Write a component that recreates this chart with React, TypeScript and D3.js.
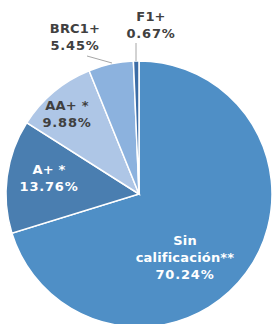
import React from 'react'
import * as d3 from 'd3'

const categories = ['Sin calificación**', 'A+ *', 'AA+ *', 'BRC1+', 'F1+']
const values = [70.24, 13.76, 9.88, 5.45, 0.67]
const colors = ['#4f8fc6', '#4a7eb0', '#aec6e6', '#8cb2de', '#3b6ca6']
const labelLines = [
  ['Sin', 'calificación**', '70.24%'],
  ['A+ *', '13.76%'],
  ['AA+ *', '9.88%'],
  ['BRC1+', '5.45%'],
  ['F1+', '0.67%'],
]

const W = 272
const H = 324
const cx = 139
const cy = 194
const r = 133

// label anchor points (relative to center) and their colours
const labelPos: [number, number, string][] = [
  [46, 63, '#ffffff'],
  [-90, -16, '#ffffff'],
  [-72, -80, '#404040'],
  [-64, -157, '#404040'],
  [12, -169, '#404040'],
]

export default function App() {
  const pie = d3
    .pie<number>()
    .sort(null)
    .startAngle(0)
    .endAngle(2 * Math.PI)
  const arcs = pie(values)
  const arc = d3.arc<d3.PieArcDatum<number>>().innerRadius(0).outerRadius(r)

  const lineH = 17

  return (
    <svg
      width={W}
      height={H}
      style={{ position: 'absolute', left: 0, top: 0 }}
      fontFamily="'DejaVu Sans', Verdana, sans-serif"
    >
      <rect width={W} height={H} fill="#ffffff" />
      <g transform={`translate(${cx},${cy})`}>
        {arcs.map((a, i) => (
          <path key={categories[i]} d={arc(a) || ''} fill={colors[i]} stroke="#ffffff" strokeWidth={1.5} />
        ))}
        {/* leader lines */}
        <polyline points="-52,-138 -27,-131" fill="none" stroke="#a6a6a6" strokeWidth={1} />
        <line x1={-3} y1={-151} x2={-3} y2={-133} stroke="#a6a6a6" strokeWidth={1} />
        {labelPos.map(([x, y, c], i) => {
          const lines = labelLines[i]
          const y0 = y - ((lines.length - 1) * lineH) / 2
          return (
            <text key={i} x={x} textAnchor="middle" fontSize={13} fontWeight="bold" fill={c}>
              {lines.map((t, j) => (
                <tspan
                  key={j}
                  x={x}
                  y={y0 + j * lineH}
                  dy="0.35em"
                  letterSpacing={t.endsWith('%') ? 0.8 : 0.2}
                >
                  {t}
                </tspan>
              ))}
            </text>
          )
        })}
      </g>
    </svg>
  )
}
